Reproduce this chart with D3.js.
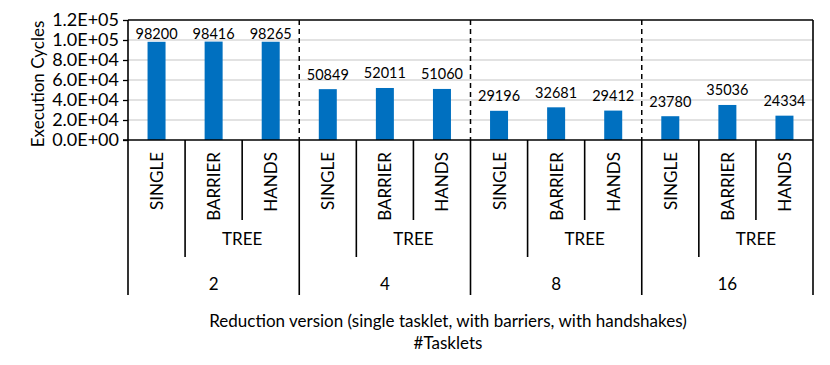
<!DOCTYPE html>
<html><head><meta charset="utf-8">
<script src="https://cdn.jsdelivr.net/npm/d3@7/dist/d3.min.js"></script>
<style>body{margin:0;background:#fff;overflow:hidden}svg{display:block}text{font-family:Lato,"Open Sans",sans-serif;fill:#000}</style>
</head><body><svg id="c" width="830" height="365"></svg>
<script>
const versions = ["SINGLE","BARRIER","HANDS"];
const treeLabel = "TREE";
const tasklets = ["2","4","8","16"];
const cycles = [98200,98416,98265,50849,52011,51060,29196,32681,29412,23780,35036,24334];
const yTicks = [0,20000,40000,60000,80000,100000,120000];
const yTitle = "Execution Cycles";
const xTitle1 = "Reduction version (single tasklet, with barriers, with handshakes)";
const xTitle2 = "#Tasklets";

const svg = d3.select("#c");
const L=128,R=813,T=20,B=140,AX=295;
const rows = [];
tasklets.forEach((t,gi)=>versions.forEach((v,vi)=>rows.push({t,v,gi,vi,i:rows.length,val:cycles[rows.length]})));
const x = d3.scaleBand().domain(rows.map(d=>d.i)).range([L,R]).padding(0);
const y = d3.scaleLinear().domain([0,120000]).range([B,T]);
const fmt = v => { const e = v===0?0:Math.floor(Math.log10(v)); const m=v/Math.pow(10,e); return m.toFixed(1)+"E+"+String(e).padStart(2,"0"); };

// gridlines
svg.append("g").selectAll("line").data(yTicks.slice(1,-1)).join("line")
  .attr("x1",L).attr("x2",R).attr("y1",d=>y(d)).attr("y2",d=>y(d))
  .attr("stroke","#d9d9d9").attr("stroke-width",1.5);

// y axis
const ya = svg.append("g").attr("transform",`translate(${L},0)`)
  .call(d3.axisLeft(y).tickValues(yTicks).tickFormat(fmt).tickSize(5).tickPadding(4));
ya.select(".domain").remove();
ya.selectAll(".tick line").attr("stroke","#000").attr("stroke-width",1.3);
ya.selectAll("text").attr("font-size",18).attr("font-family","Lato").attr("fill","#000");

// bars
svg.append("g").selectAll("rect").data(rows).join("rect")
  .attr("x",d=>x(d.i)+x.bandwidth()/2-9).attr("width",18)
  .attr("y",d=>y(d.val)).attr("height",d=>B-y(d.val)).attr("fill","#0070c0");

// value labels
svg.append("g").selectAll("text").data(rows).join("text")
  .attr("x",d=>x(d.i)+x.bandwidth()/2).attr("y",d=>Math.max(y(d.val)-15,33))
  .attr("text-anchor","middle").attr("dominant-baseline","central")
  .attr("font-size",14.5).text(d=>d.val);

// dashed group separators inside plot
const groupStart = gi => x(gi*3);
svg.append("g").selectAll("line").data([1,2,3]).join("line")
  .attr("x1",d=>groupStart(d)).attr("x2",d=>groupStart(d)).attr("y1",T).attr("y2",B)
  .attr("stroke","#000").attr("stroke-width",1.5).attr("stroke-dasharray","5,4");

// frame: top, right, left axis, bottom axis
const frame = svg.append("g").attr("stroke","#000").attr("stroke-width",1.6);
frame.append("line").attr("x1",L).attr("x2",R).attr("y1",T).attr("y2",T);
frame.append("line").attr("x1",R).attr("x2",R).attr("y1",T).attr("y2",AX);
frame.append("line").attr("x1",L).attr("x2",L).attr("y1",T).attr("y2",AX);
frame.append("line").attr("x1",L-5).attr("x2",R).attr("y1",B).attr("y2",B);
// group separators below axis
frame.selectAll(".gs").data([1,2,3]).join("line").attr("class","gs")
  .attr("x1",d=>groupStart(d)).attr("x2",d=>groupStart(d)).attr("y1",B).attr("y2",AX);
// SINGLE | TREE separator
frame.selectAll(".ts").data([0,1,2,3]).join("line").attr("class","ts")
  .attr("x1",d=>x(d*3+1)).attr("x2",d=>x(d*3+1)).attr("y1",B).attr("y2",257);
// BARRIER | HANDS separator
frame.selectAll(".bs").data([0,1,2,3]).join("line").attr("class","bs")
  .attr("x1",d=>x(d*3+2)).attr("x2",d=>x(d*3+2)).attr("y1",B).attr("y2",220);

// version labels rotated
svg.append("g").selectAll("text").data(rows).join("text")
  .attr("transform",d=>`translate(${x(d.i)+x.bandwidth()/2},152) rotate(-90)`)
  .attr("text-anchor","end").attr("dominant-baseline","central")
  .attr("font-size",17).text(d=>d.v);
// TREE labels
svg.append("g").selectAll("text").data(tasklets).join("text")
  .attr("x",(d,i)=>(x(i*3+1)+x(i*3+2)+x.bandwidth())/2).attr("y",238)
  .attr("text-anchor","middle").attr("dominant-baseline","central")
  .attr("font-size",17).text(treeLabel);
// tasklet labels
svg.append("g").selectAll("text").data(tasklets).join("text")
  .attr("x",(d,i)=>x(i*3)+x.bandwidth()*1.5).attr("y",283)
  .attr("text-anchor","middle").attr("dominant-baseline","central")
  .attr("font-size",17).text(d=>d);

// titles
svg.append("text").attr("transform","translate(37,84) rotate(-90)")
  .attr("text-anchor","middle").attr("dominant-baseline","central").attr("font-size",17).text(yTitle);
svg.append("text").attr("x",448).attr("y",320).attr("text-anchor","middle")
  .attr("dominant-baseline","central").attr("font-size",17).text(xTitle1);
svg.append("text").attr("x",448).attr("y",342).attr("text-anchor","middle")
  .attr("dominant-baseline","central").attr("font-size",17).text(xTitle2);
</script></body></html>
